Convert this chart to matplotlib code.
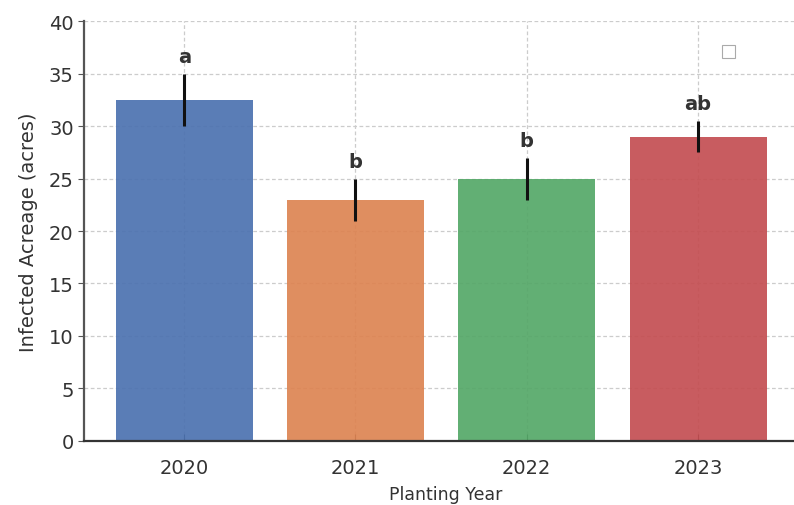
import matplotlib.pyplot as plt
from matplotlib.patches import Rectangle

years = ["2020", "2021", "2022", "2023"]
acreage = [32.5, 23, 25, 29]
errors = [2.5, 2, 2, 1.5]
letters = ["a", "b", "b", "ab"]

colors = ["#4C72B0", "#DD8452", "#55A868", "#C44E52"]

fig = plt.figure(figsize=(7.94, 5.06), dpi=100)
ax = fig.add_axes([0.106, 0.1265, 0.894, 0.83])

x = range(len(years))
ax.bar(x, acreage, width=0.8, color=colors, alpha=0.92, zorder=2)
ax.errorbar(x, acreage, yerr=errors, fmt="none", ecolor="#111111",
            elinewidth=2.2, capsize=0, zorder=3)

for i, (v, e, lab) in enumerate(zip(acreage, errors, letters)):
    ax.text(i, v + e + 0.7, lab, ha="center", va="bottom",
            fontsize=14, fontweight="bold", color="#333333")

ax.set_xlim(-0.584, 3.56)
ax.set_ylim(0, 40)
ax.set_xticks(list(x))
ax.set_xticklabels(years)
ax.set_yticks(range(0, 41, 5))
ax.tick_params(axis="both", labelsize=14, colors="#333333")
ax.tick_params(axis="x", direction="in", length=5, color="#222222", pad=12)
ax.tick_params(axis="y", length=4, color="#555555")

ax.set_xlabel("Planting Year", fontsize=12.5, color="#333333")
ax.set_ylabel("Infected Acreage (acres)", fontsize=14, color="#333333")
ax.xaxis.set_label_coords(0.51, -0.105)
ax.yaxis.set_label_coords(-0.065, 0.5)

ax.grid(True, linestyle=(0, (3, 2)), color="#cccccc", linewidth=0.9, zorder=0)
ax.set_axisbelow(True)
for s in ["top", "right"]:
    ax.spines[s].set_visible(False)
ax.spines["left"].set_color("#555555")
ax.spines["left"].set_linewidth(1.6)
ax.spines["bottom"].set_color("#333333")
ax.spines["bottom"].set_linewidth(1.6)

# empty legend box in the corner
fig.patches.append(Rectangle((722 / 794, 1 - 59 / 506), 13 / 794, 13 / 506,
                             transform=fig.transFigure, fill=False,
                             edgecolor="#aaaaaa", linewidth=0.8))

fig.savefig("out.png", dpi=100)
